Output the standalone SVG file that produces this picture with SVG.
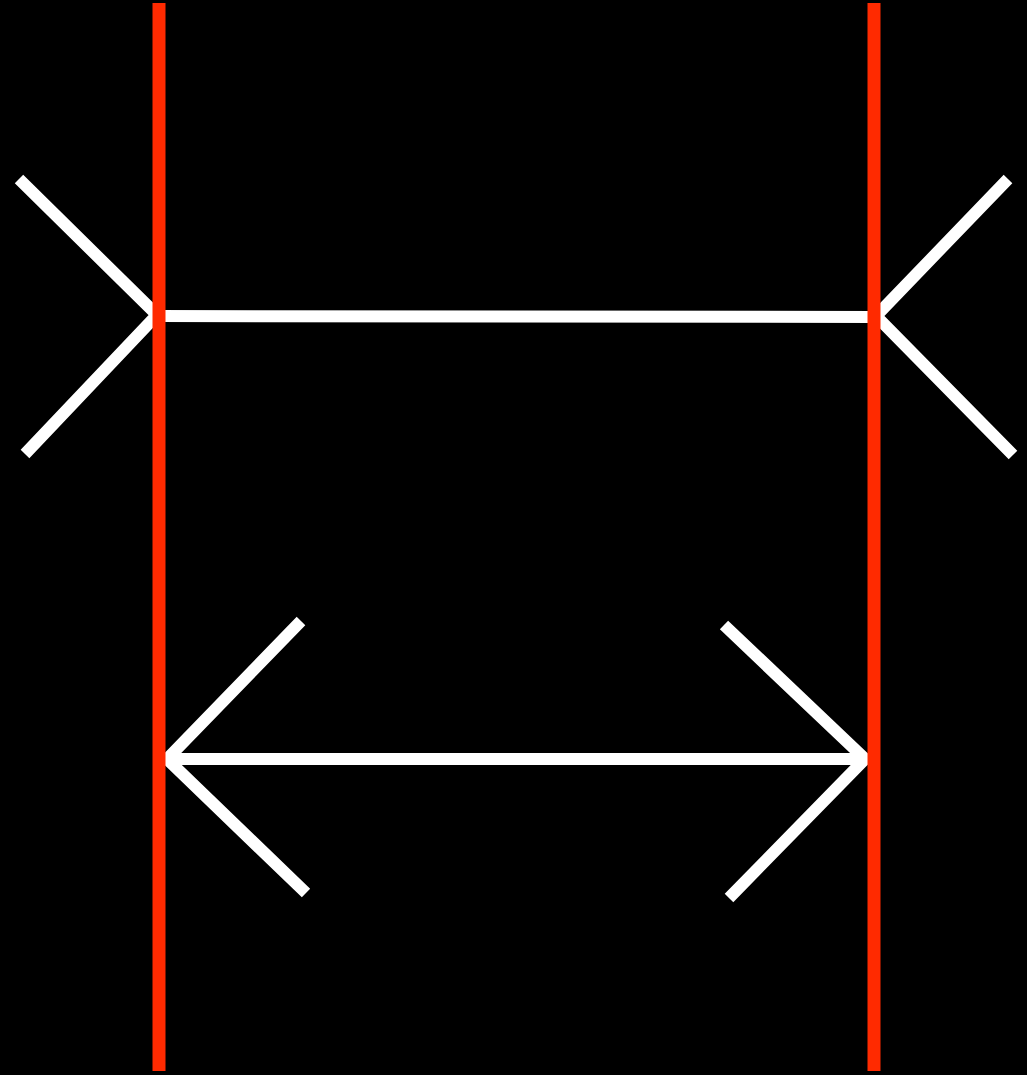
<svg xmlns="http://www.w3.org/2000/svg" width="1027" height="1075" viewBox="0 0 1027 1075">
<style>
.w{stroke:#ffffff;stroke-width:12;stroke-linecap:butt;stroke-linejoin:miter;stroke-miterlimit:10;fill:none}
.r{stroke:#ff2a00;stroke-width:13;fill:none}
</style>
<rect width="1027" height="1075" fill="#000000"/>
<g id="connectors">
<g id="top-figure">
<line class="w" x1="159" y1="316" x2="874" y2="317"/>
<polyline class="w" points="19,179 157,315 25,454"/>
<polyline class="w" points="1008,179 876,316 1013,455"/>
</g>
<g id="bottom-figure">
<line class="w" x1="166" y1="759" x2="867" y2="759"/>
<polyline class="w" points="301,621 167,759 306,893"/>
<polyline class="w" points="724,625 865,759 729,898"/>
</g>
</g>
<g id="red-left"><line class="r" x1="159" y1="3" x2="159" y2="1071"/></g>
<g id="red-right"><line class="r" x1="874" y1="3" x2="874" y2="1071"/></g>
</svg>
